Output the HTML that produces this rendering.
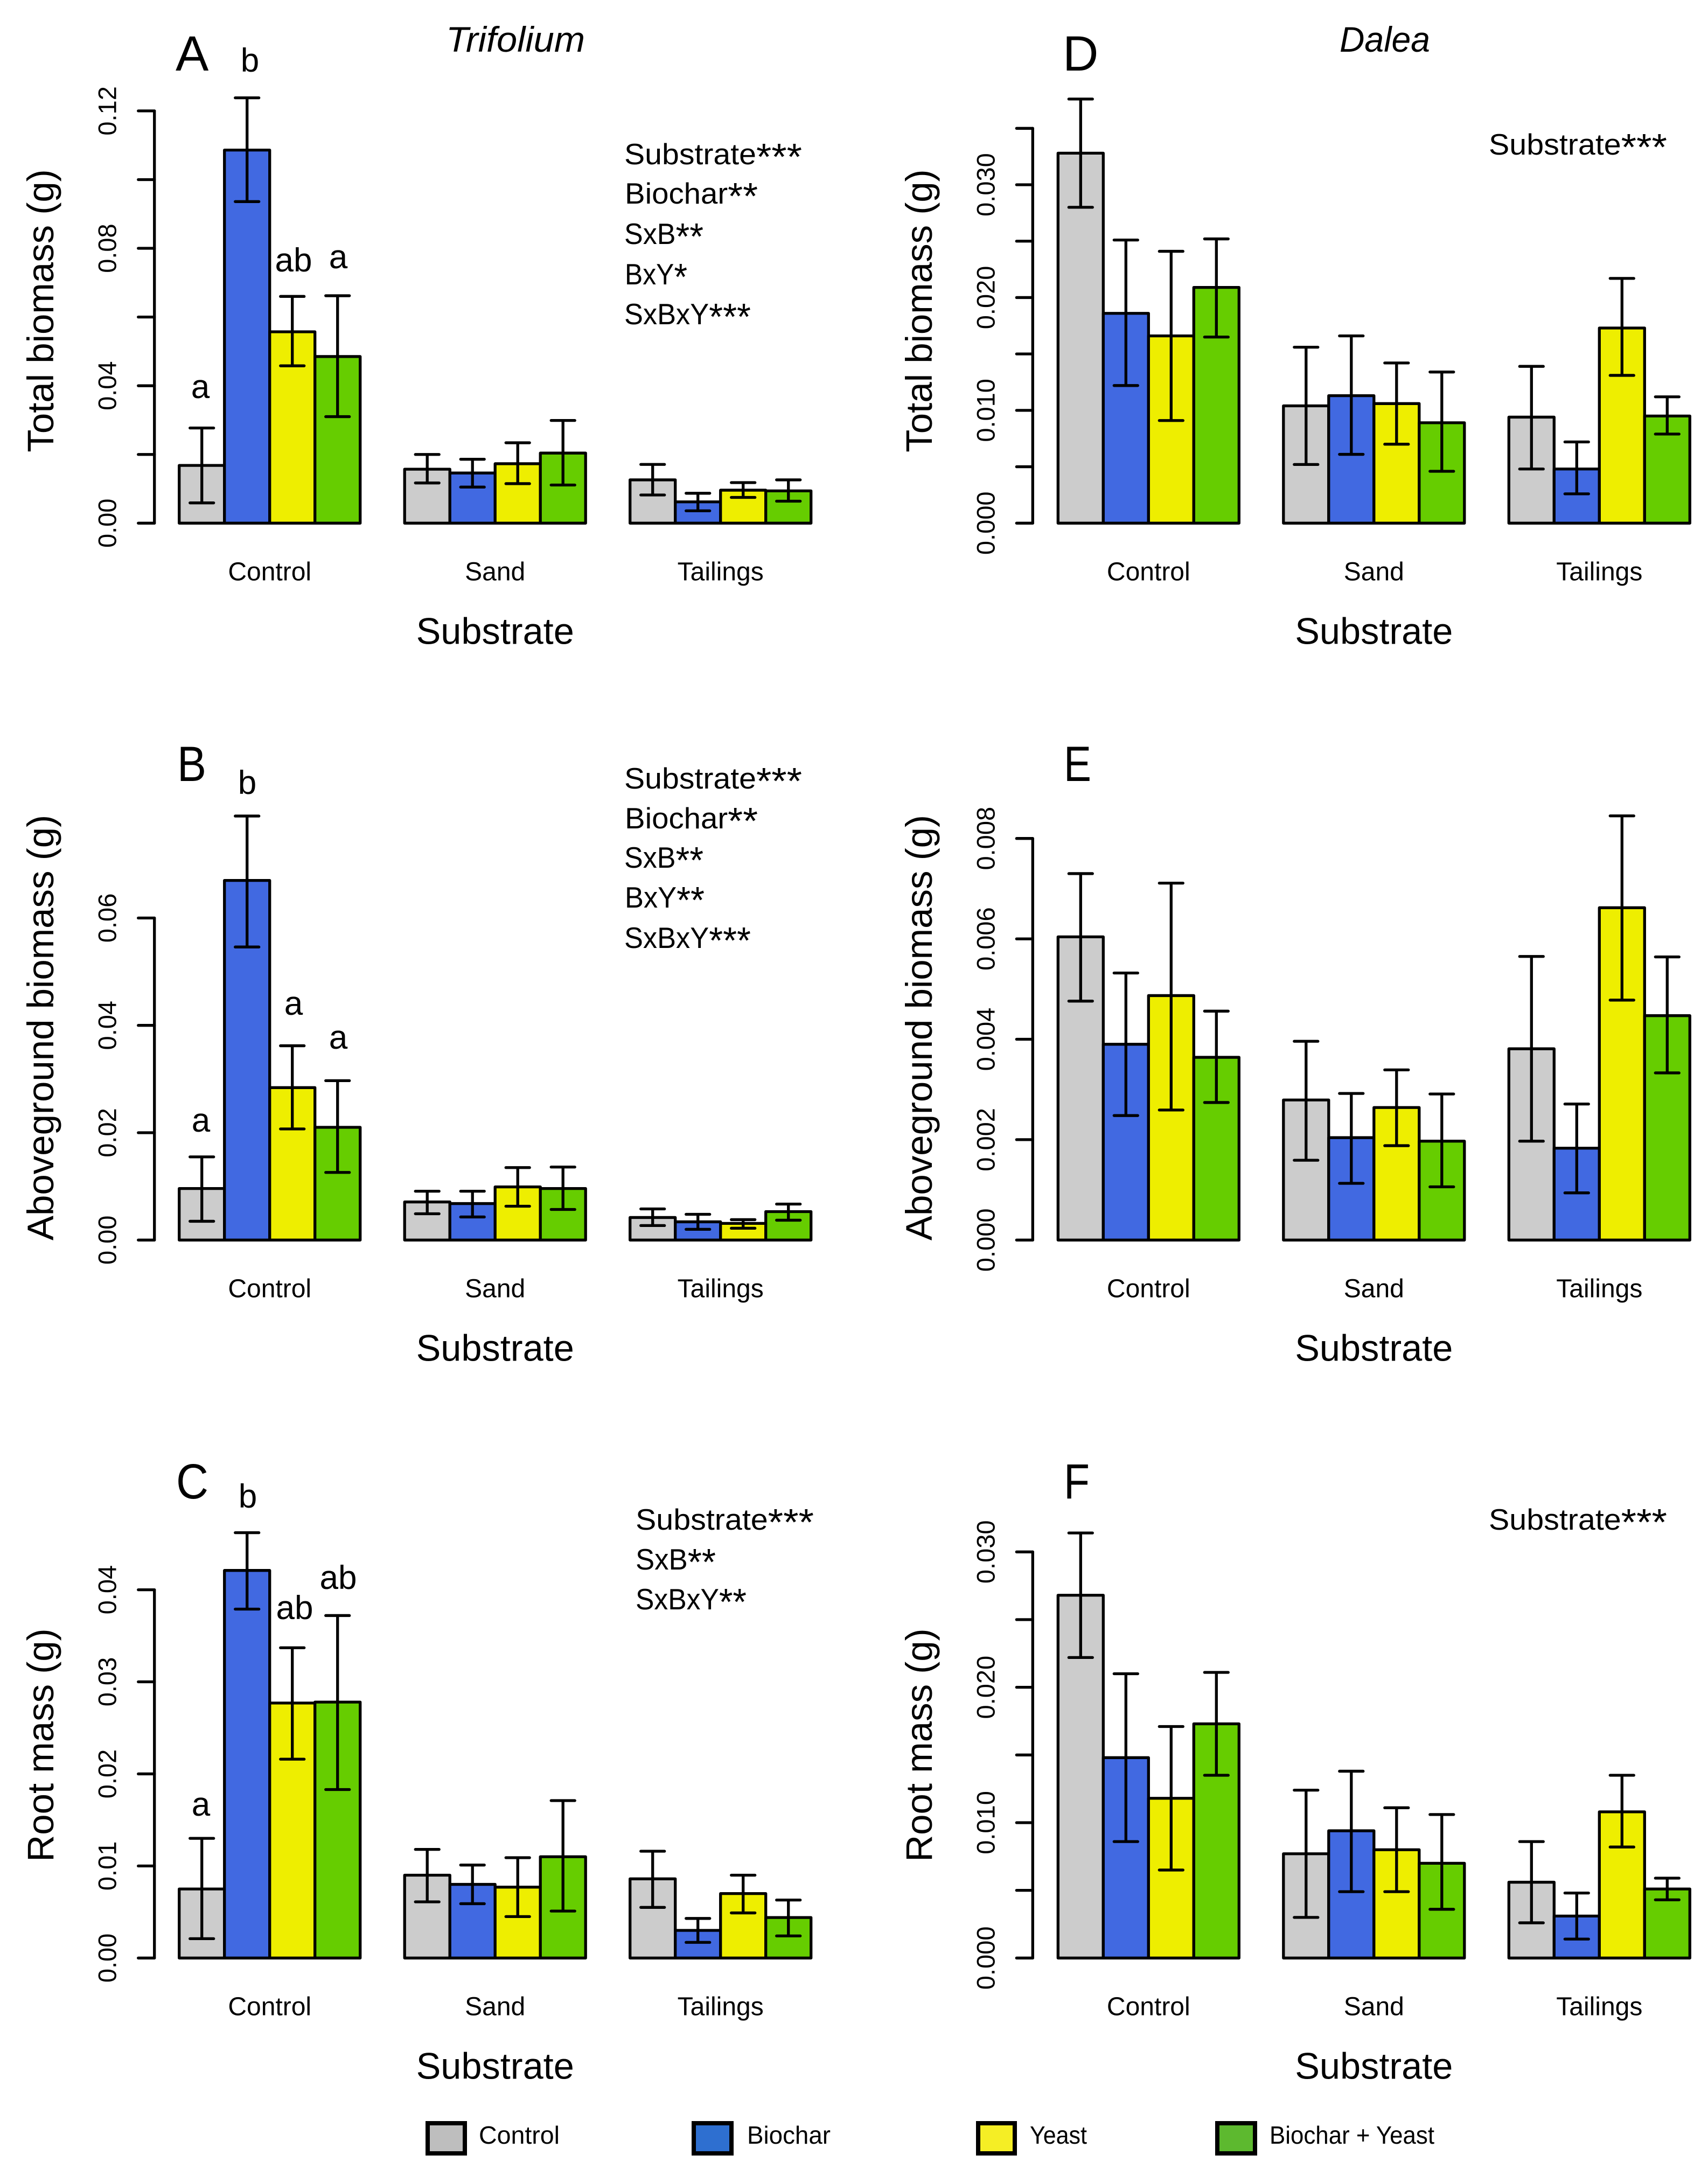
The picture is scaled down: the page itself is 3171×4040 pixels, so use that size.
<!DOCTYPE html>
<html lang="en">
<head>
<meta charset="utf-8">
<title>Biomass bar charts</title>
<style>
html,body{margin:0;padding:0;background:#fff;}
svg{display:block;}
text{font-family:"Liberation Sans",sans-serif;fill:#000;}
</style>
</head>
<body>
<svg id="figure" xmlns="http://www.w3.org/2000/svg" width="3171" height="4040" viewBox="0 0 3171 4040">
<rect x="0" y="0" width="3171" height="4040" fill="#fff"/>

<g id="panels"></g>

<g font-style="italic" font-size="66">
<text x="828" y="96" textLength="258" lengthAdjust="spacingAndGlyphs">Trifolium</text>
<text x="2487" y="96" textLength="168" lengthAdjust="spacingAndGlyphs">Dalea</text>
</g>

<g font-size="92">
<text x="326" y="131">A</text>
<text x="329" y="1450" textLength="54" lengthAdjust="spacingAndGlyphs">B</text>
<text x="327" y="2782" textLength="60" lengthAdjust="spacingAndGlyphs">C</text>
<text x="1973" y="131">D</text>
<text x="1975" y="1450" textLength="51" lengthAdjust="spacingAndGlyphs">E</text>
<text x="1975" y="2782" textLength="48" lengthAdjust="spacingAndGlyphs">F</text>
</g>

<g font-size="62" text-anchor="middle">
<text x="372" y="739">a</text>
<text x="464" y="133">b</text>
<text x="545" y="504">ab</text>
<text x="628" y="498">a</text>
<text x="373" y="2101">a</text>
<text x="459" y="1474">b</text>
<text x="545" y="1884">a</text>
<text x="628" y="1947">a</text>
<text x="373" y="3371">a</text>
<text x="460" y="2799">b</text>
<text x="547" y="3006">ab</text>
<text x="628" y="2950">ab</text>
</g>

<g font-size="55">
<text x="1159" y="305" textLength="330" lengthAdjust="spacingAndGlyphs">Substrate<tspan font-size="70" dy="10">***</tspan></text>
<text x="1160" y="378" textLength="247" lengthAdjust="spacingAndGlyphs">Biochar<tspan font-size="70" dy="10">**</tspan></text>
<text x="1159" y="453" textLength="147" lengthAdjust="spacingAndGlyphs">SxB<tspan font-size="70" dy="10">**</tspan></text>
<text x="1160" y="528" textLength="116" lengthAdjust="spacingAndGlyphs">BxY<tspan font-size="70" dy="10">*</tspan></text>
<text x="1159" y="602" textLength="235" lengthAdjust="spacingAndGlyphs">SxBxY<tspan font-size="70" dy="10">***</tspan></text>

<text x="1159" y="1464" textLength="330" lengthAdjust="spacingAndGlyphs">Substrate<tspan font-size="70" dy="10">***</tspan></text>
<text x="1160" y="1538" textLength="247" lengthAdjust="spacingAndGlyphs">Biochar<tspan font-size="70" dy="10">**</tspan></text>
<text x="1159" y="1611" textLength="147" lengthAdjust="spacingAndGlyphs">SxB<tspan font-size="70" dy="10">**</tspan></text>
<text x="1160" y="1685" textLength="148" lengthAdjust="spacingAndGlyphs">BxY<tspan font-size="70" dy="10">**</tspan></text>
<text x="1159" y="1760" textLength="235" lengthAdjust="spacingAndGlyphs">SxBxY<tspan font-size="70" dy="10">***</tspan></text>

<text x="1180" y="2840" textLength="331" lengthAdjust="spacingAndGlyphs">Substrate<tspan font-size="70" dy="10">***</tspan></text>
<text x="1180" y="2914" textLength="149" lengthAdjust="spacingAndGlyphs">SxB<tspan font-size="70" dy="10">**</tspan></text>
<text x="1180" y="2988" textLength="206" lengthAdjust="spacingAndGlyphs">SxBxY<tspan font-size="70" dy="10">**</tspan></text>

<text x="2764" y="287" textLength="331" lengthAdjust="spacingAndGlyphs">Substrate<tspan font-size="70" dy="10">***</tspan></text>
<text x="2764" y="2840" textLength="331" lengthAdjust="spacingAndGlyphs">Substrate<tspan font-size="70" dy="10">***</tspan></text>
</g>

<g font-size="46">
<g>
<rect x="794" y="3942" width="69" height="56" fill="#BEBEBE" stroke="#000" stroke-width="8"/>
<text x="889" y="3980" textLength="150" lengthAdjust="spacingAndGlyphs">Control</text>
</g>
<g>
<rect x="1288" y="3942" width="70" height="56" fill="#2E6FD0" stroke="#000" stroke-width="8"/>
<text x="1387" y="3980" textLength="155" lengthAdjust="spacingAndGlyphs">Biochar</text>
</g>
<g>
<rect x="1816" y="3942" width="68" height="56" fill="#F5EE25" stroke="#000" stroke-width="8"/>
<text x="1912" y="3980" textLength="106" lengthAdjust="spacingAndGlyphs">Yeast</text>
</g>
<g>
<rect x="2260" y="3942" width="70" height="56" fill="#5DB92F" stroke="#000" stroke-width="8"/>
<text x="2357" y="3980" textLength="306" lengthAdjust="spacingAndGlyphs">Biochar + Yeast</text>
</g>
</g>
</svg>

<script>
// Shared category and series names
const categories = ["Control", "Sand", "Tailings"];
const seriesNames = ["control", "biochar", "yeast", "biochar-yeast"];
const seriesColors = ["#CCCCCC", "#4169E1", "#EEEE00", "#66CD00"];

// Panel A: Trifolium total biomass (4 series in each of 3 substrates)
const aMeans = [0.0168, 0.1086, 0.0557, 0.0485, 0.0157, 0.0146, 0.0173, 0.0204, 0.0126, 0.0062, 0.0096, 0.0094];
const aUpper = [0.0277, 0.1238, 0.0660, 0.0662, 0.0200, 0.0186, 0.0234, 0.0299, 0.0171, 0.0087, 0.0118, 0.0126];
const aLower = [0.0059, 0.0936, 0.0458, 0.0310, 0.0117, 0.0105, 0.0115, 0.0111, 0.0082, 0.0036, 0.0075, 0.0064];
const aTicks = [0, 0.02, 0.04, 0.06, 0.08, 0.10, 0.12];
const aTickLabels = ["0.00", "", "0.04", "", "0.08", "", "0.12"];

// Panel B: Trifolium aboveground biomass
const bMeans = [0.0096, 0.0670, 0.0284, 0.0210, 0.0071, 0.0068, 0.0099, 0.0096, 0.0042, 0.0034, 0.0031, 0.0053];
const bUpper = [0.0155, 0.0790, 0.0362, 0.0297, 0.0091, 0.0091, 0.0135, 0.0136, 0.0058, 0.0048, 0.0038, 0.0067];
const bLower = [0.0035, 0.0546, 0.0207, 0.0126, 0.0049, 0.0043, 0.0063, 0.0057, 0.0027, 0.0020, 0.0022, 0.0037];
const bTicks = [0, 0.02, 0.04, 0.06];
const bTickLabels = ["0.00", "0.02", "0.04", "0.06"];

// Panel C: Trifolium root mass
const cMeans = [0.0075, 0.0421, 0.0277, 0.0278, 0.0090, 0.0080, 0.0077, 0.0110, 0.0086, 0.0030, 0.0070, 0.0044];
const cUpper = [0.0130, 0.0462, 0.0337, 0.0372, 0.0118, 0.0101, 0.0109, 0.0171, 0.0116, 0.0043, 0.0090, 0.0063];
const cLower = [0.0021, 0.0379, 0.0216, 0.0183, 0.0061, 0.0059, 0.0045, 0.0051, 0.0055, 0.0017, 0.0049, 0.0024];
const cTicks = [0, 0.01, 0.02, 0.03, 0.04];
const cTickLabels = ["0.00", "0.01", "0.02", "0.03", "0.04"];

// Panel D: Dalea total biomass
const dMeans = [0.0328, 0.0186, 0.0166, 0.0209, 0.0104, 0.0113, 0.0106, 0.0089, 0.0094, 0.0048, 0.0173, 0.0095];
const dUpper = [0.0376, 0.0251, 0.0241, 0.0252, 0.0156, 0.0166, 0.0142, 0.0134, 0.0139, 0.0072, 0.0217, 0.0112];
const dLower = [0.0280, 0.0122, 0.0091, 0.0165, 0.0052, 0.0061, 0.0070, 0.0046, 0.0048, 0.0026, 0.0131, 0.0079];
const dTicks = [0, 0.005, 0.010, 0.015, 0.020, 0.025, 0.030, 0.035];
const dTickLabels = ["0.000", "", "0.010", "", "0.020", "", "0.030", ""];

// Panel E: Dalea aboveground biomass
const eMeans = [0.00604, 0.00390, 0.00487, 0.00364, 0.00279, 0.00204, 0.00264, 0.00197, 0.00381, 0.00183, 0.00662, 0.00447];
const eUpper = [0.00730, 0.00532, 0.00711, 0.00456, 0.00396, 0.00292, 0.00339, 0.00291, 0.00565, 0.00271, 0.00845, 0.00564];
const eLower = [0.00476, 0.00248, 0.00259, 0.00274, 0.00159, 0.00113, 0.00188, 0.00106, 0.00197, 0.00094, 0.00478, 0.00333];
const eTicks = [0, 0.002, 0.004, 0.006, 0.008];
const eTickLabels = ["0.000", "0.002", "0.004", "0.006", "0.008"];

// Panel F: Dalea root mass
const fMeans = [0.0268, 0.0148, 0.0118, 0.0173, 0.0077, 0.0094, 0.0080, 0.0070, 0.0056, 0.0031, 0.0108, 0.0051];
const fUpper = [0.0314, 0.0210, 0.0171, 0.0211, 0.0124, 0.0138, 0.0111, 0.0106, 0.0086, 0.0048, 0.0135, 0.0059];
const fLower = [0.0222, 0.0086, 0.0065, 0.0135, 0.0030, 0.0049, 0.0049, 0.0036, 0.0026, 0.0014, 0.0082, 0.0043];
const fTicks = [0, 0.005, 0.010, 0.015, 0.020, 0.025, 0.030];
const fTickLabels = ["0.000", "", "0.010", "", "0.020", "", "0.030"];

const SVG_NS = "http://www.w3.org/2000/svg";
const panelsRoot = document.getElementById("panels");

function make(tag, attrs, parent, content) {
  const node = document.createElementNS(SVG_NS, tag);
  for (const key in attrs) node.setAttribute(key, attrs[key]);
  if (content !== undefined) node.textContent = content;
  parent.appendChild(node);
  return node;
}

function drawPanel(cfg) {
  const panel = make("g", {}, panelsRoot);
  
  

  const maxTick = cfg.ticks[cfg.ticks.length - 1];
  const yScale = function (v) { return cfg.base - (v / maxTick) * (cfg.base - cfg.top); };
  const barX = function (g, s) { return cfg.x0 + g * cfg.groupStep + s * cfg.barW; };

  // bars
  cfg.means.forEach(function (value, i) {
    const g = Math.floor(i / 4);
    const s = i % 4;
    const bar = make("rect", {
      x: barX(g, s), y: yScale(value), width: cfg.barW, height: cfg.base - yScale(value),
      fill: seriesColors[s], stroke: "#000", "stroke-width": 5.3, "stroke-linejoin": "round"
    }, panel);
    
    
  });

  // error bars
  cfg.means.forEach(function (value, i) {
    const g = Math.floor(i / 4);
    const s = i % 4;
    const cx = barX(g, s) + cfg.barW / 2;
    const yHi = yScale(cfg.upper[i]);
    const yLo = yScale(cfg.lower[i]);
    const err = make("path", {
      d: "M" + cx + " " + yLo + "V" + yHi +
         "M" + (cx - 22) + " " + yHi + "H" + (cx + 22) +
         "M" + (cx - 22) + " " + yLo + "H" + (cx + 22),
      fill: "none", stroke: "#000", "stroke-width": 5.3, "stroke-linecap": "round"
    }, panel);
    
    
  });

  // y axis
  const axis = make("path", {
    d: "M" + cfg.axisX + " " + yScale(maxTick) + "V" + cfg.base,
    fill: "none", stroke: "#000", "stroke-width": 5.3, "stroke-linecap": "round"
  }, panel);
  
  

  cfg.ticks.forEach(function (t, i) {
    const ty = yScale(t);
    const mark = make("path", {
      d: "M" + (cfg.axisX - 30) + " " + ty + "H" + cfg.axisX,
      fill: "none", stroke: "#000", "stroke-width": 5.3, "stroke-linecap": "round"
    }, panel);
    
    
    if (cfg.tickLabels[i]) {
      const lx = cfg.axisX - 71;
      const lab = make("text", {
        x: lx, y: ty, "font-size": 47, "text-anchor": "middle",
        transform: "rotate(-90 " + lx + " " + ty + ")"
      }, panel, cfg.tickLabels[i]);
      
      
    }
  });

  // y axis title
  const yTitle = make("text", {
    x: cfg.axisX - 187.5, y: cfg.titleY, "font-size": 69, "text-anchor": "middle",
    transform: "rotate(-90 " + (cfg.axisX - 187.5) + " " + cfg.titleY + ")"
  }, panel, cfg.yTitle);
  
  

  // category labels
  categories.forEach(function (name, g) {
    const cx = barX(g, 2);
    const lab = make("text", {
      x: cx, y: cfg.base + 106, "font-size": 48, "text-anchor": "middle"
    }, panel, name);
    
    
  });

  // x axis title
  const xTitle = make("text", {
    x: barX(1, 2), y: cfg.base + 224, "font-size": 68.5, "text-anchor": "middle"
  }, panel, "Substrate");
  
  
}

const leftCol = { x0: 332.7, barW: 84, groupStep: 418.5, axisX: 286.7 };
const rightCol = { x0: 1964.3, barW: 84, groupStep: 418.5, axisX: 1917.3 };

drawPanel(Object.assign({ id: "a", means: aMeans, upper: aUpper, lower: aLower, ticks: aTicks, tickLabels: aTickLabels,
  base: 971.3, top: 205.9, titleY: 577, yTitle: "Total biomass (g)" }, leftCol));
drawPanel(Object.assign({ id: "b", means: bMeans, upper: bUpper, lower: bLower, ticks: bTicks, tickLabels: bTickLabels,
  base: 2302.3, top: 1704.4, titleY: 1908, yTitle: "Aboveground biomass (g)" }, leftCol));
drawPanel(Object.assign({ id: "c", means: cMeans, upper: cUpper, lower: cLower, ticks: cTicks, tickLabels: cTickLabels,
  base: 3635.3, top: 2951.6, titleY: 3240, yTitle: "Root mass (g)" }, leftCol));
drawPanel(Object.assign({ id: "d", means: dMeans, upper: dUpper, lower: dLower, ticks: dTicks, tickLabels: dTickLabels,
  base: 971.3, top: 238.3, titleY: 577, yTitle: "Total biomass (g)" }, rightCol));
drawPanel(Object.assign({ id: "e", means: eMeans, upper: eUpper, lower: eLower, ticks: eTicks, tickLabels: eTickLabels,
  base: 2302.3, top: 1556.7, titleY: 1908, yTitle: "Aboveground biomass (g)" }, rightCol));
drawPanel(Object.assign({ id: "f", means: fMeans, upper: fUpper, lower: fLower, ticks: fTicks, tickLabels: fTickLabels,
  base: 3635.3, top: 2881.3, titleY: 3240, yTitle: "Root mass (g)" }, rightCol));
</script>
</body>
</html>
